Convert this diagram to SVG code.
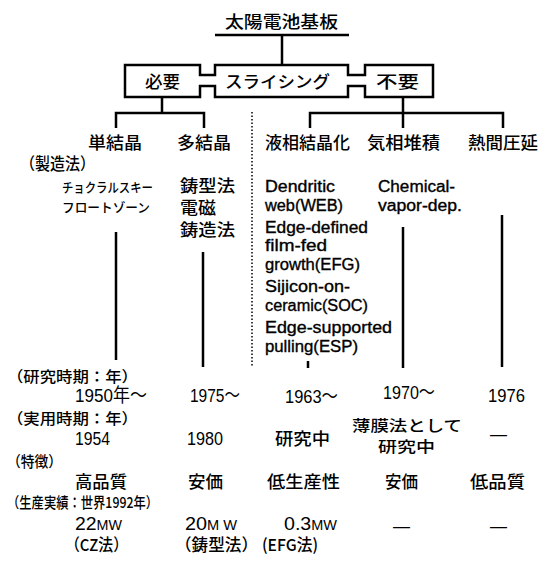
<svg xmlns="http://www.w3.org/2000/svg" width="543" height="561" viewBox="0 0 543 561">
<style>
.j{font-family:"Noto Sans CJK JP","Noto Sans CJK SC",sans-serif;font-size:16.5px;fill:#000;font-weight:500}
.r{font-size:15px}
.l{font-family:"Liberation Sans","Noto Sans CJK JP",sans-serif;font-size:16px;fill:#000;stroke:#000;stroke-width:0.35}
.d{font-family:"Liberation Sans","Noto Sans CJK JP",sans-serif;font-size:19px;fill:#000}
.k{font-size:13px}
.s{font-size:14px}
.ln{stroke:#000;stroke-width:2.5;fill:none}
.dot{stroke:#000;stroke-width:1.5;fill:none;stroke-dasharray:1.5 2}
</style>
<rect width="543" height="561" fill="#fff"/>
<g id="title"><text class="j" x="225" y="28" font-size="18" textLength="113" lengthAdjust="spacingAndGlyphs">太陽電池基板</text></g>
<g id="connectors">
<path class="ln" d="M215,35H349M282,35V65"/>
<path class="ln" stroke-width="2" d="M125,65H200V75H215V65H348V75H365V65H433V97H365V86H348V97H215V86H200V97H125Z"/>
<path class="ln" d="M162,97V113M116,128V113H204V128"/>
<path class="ln" d="M403,97V128M310,128V113H503V128"/>
<path class="dot" d="M252,112V367"/>
<path class="ln" d="M116,232V360M203,252V367M308,361V368M403,227V368M502,215V367"/>
</g>
<g id="boxes">
<text class="j" x="145" y="88" font-size="17.5" textLength="35" lengthAdjust="spacingAndGlyphs">必要</text>
<text class="j" x="225" y="88" font-size="17.5" textLength="105" lengthAdjust="spacingAndGlyphs">スライシング</text>
<text class="j" x="376" y="88" font-size="17.5" textLength="43" lengthAdjust="spacingAndGlyphs">不要</text>
</g>
<g id="col-single">
<text class="j" x="88" y="149" textLength="54" lengthAdjust="spacingAndGlyphs">単結晶</text>
<text class="j k" x="62" y="192" textLength="91" lengthAdjust="spacingAndGlyphs">チョクラルスキー</text>
<text class="j k" x="62" y="212" textLength="88" lengthAdjust="spacingAndGlyphs">フロートゾーン</text>
<text class="d" x="75" y="402" textLength="72" lengthAdjust="spacingAndGlyphs">1950年～</text>
<text class="d" x="75" y="445" textLength="35" lengthAdjust="spacingAndGlyphs">1954</text>
<text class="j" x="75" y="488" textLength="52" lengthAdjust="spacingAndGlyphs">高品質</text>
<text class="d" x="75" y="530" textLength="47" lengthAdjust="spacingAndGlyphs">22<tspan class="s">MW</tspan></text>
<text class="j" x="65" y="551" textLength="63" lengthAdjust="spacingAndGlyphs">（CZ法）</text>
</g>
<g id="col-poly">
<text class="j" x="177" y="149" textLength="54" lengthAdjust="spacingAndGlyphs">多結晶</text>
<text class="j" x="180" y="192" textLength="55" lengthAdjust="spacingAndGlyphs">鋳型法</text>
<text class="j" x="180" y="214" textLength="36" lengthAdjust="spacingAndGlyphs">電磁</text>
<text class="j" x="180" y="236" textLength="55" lengthAdjust="spacingAndGlyphs">鋳造法</text>
<text class="d" x="190" y="402" textLength="50" lengthAdjust="spacingAndGlyphs">1975～</text>
<text class="d" x="187" y="445" textLength="36" lengthAdjust="spacingAndGlyphs">1980</text>
<text class="j" x="188" y="488" textLength="35" lengthAdjust="spacingAndGlyphs">安価</text>
<text class="d" x="185" y="530" textLength="52" lengthAdjust="spacingAndGlyphs">20<tspan class="s">M W</tspan></text>
<text class="j" x="175" y="551" textLength="83" lengthAdjust="spacingAndGlyphs">（鋳型法）</text>
</g>
<g id="col-liquid">
<text class="j" x="265" y="149" textLength="85" lengthAdjust="spacingAndGlyphs">液相結晶化</text>
<text class="l" x="265" y="192" textLength="70" lengthAdjust="spacingAndGlyphs">Dendritic</text>
<text class="l" x="265" y="211" textLength="78" lengthAdjust="spacingAndGlyphs">web(WEB)</text>
<text class="l" x="265" y="233" textLength="103" lengthAdjust="spacingAndGlyphs">Edge-defined</text>
<text class="l" x="265" y="251" textLength="62" lengthAdjust="spacingAndGlyphs">film-fed</text>
<text class="l" x="265" y="270" textLength="95" lengthAdjust="spacingAndGlyphs">growth(EFG)</text>
<text class="l" x="265" y="292" textLength="85" lengthAdjust="spacingAndGlyphs">Sijicon-on-</text>
<text class="l" x="265" y="311" textLength="103" lengthAdjust="spacingAndGlyphs">ceramic(SOC)</text>
<text class="l" x="265" y="333" textLength="127" lengthAdjust="spacingAndGlyphs">Edge-supported</text>
<text class="l" x="265" y="352" textLength="93" lengthAdjust="spacingAndGlyphs">pulling(ESP)</text>
<text class="d" x="285" y="403" textLength="53" lengthAdjust="spacingAndGlyphs">1963～</text>
<text class="j" x="275" y="445" textLength="55" lengthAdjust="spacingAndGlyphs">研究中</text>
<text class="j" x="267" y="488" textLength="73" lengthAdjust="spacingAndGlyphs">低生産性</text>
<text class="d" x="284" y="530" textLength="53" lengthAdjust="spacingAndGlyphs">0.3<tspan class="s">MW</tspan></text>
<text class="j" x="262" y="551" textLength="56" lengthAdjust="spacingAndGlyphs">(EFG法)</text>
</g>
<g id="col-vapor">
<text class="j" x="367" y="149" textLength="73" lengthAdjust="spacingAndGlyphs">気相堆積</text>
<text class="l" x="378" y="192" textLength="77" lengthAdjust="spacingAndGlyphs">Chemical-</text>
<text class="l" x="378" y="211" textLength="84" lengthAdjust="spacingAndGlyphs">vapor-dep.</text>
<text class="d" x="383" y="399" textLength="52" lengthAdjust="spacingAndGlyphs">1970～</text>
<text class="j r" x="352" y="431" textLength="110" lengthAdjust="spacingAndGlyphs">薄膜法として</text>
<text class="j r" x="378" y="452" textLength="57" lengthAdjust="spacingAndGlyphs">研究中</text>
<text class="j" x="385" y="488" textLength="33" lengthAdjust="spacingAndGlyphs">安価</text>
<text class="d" x="393" y="532" textLength="17" lengthAdjust="spacingAndGlyphs">—</text>
</g>
<g id="col-hot">
<text class="j" x="468" y="149" textLength="70" lengthAdjust="spacingAndGlyphs">熱間圧延</text>
<text class="d" x="488" y="402" textLength="37" lengthAdjust="spacingAndGlyphs">1976</text>
<text class="d" x="490" y="440" textLength="17" lengthAdjust="spacingAndGlyphs">—</text>
<text class="j" x="470" y="488" textLength="55" lengthAdjust="spacingAndGlyphs">低品質</text>
<text class="d" x="490" y="532" textLength="17" lengthAdjust="spacingAndGlyphs">—</text>
</g>
<g id="row-labels">
<text class="j" x="20" y="170" textLength="75" lengthAdjust="spacingAndGlyphs">（製造法）</text>
<text class="j r" x="7" y="382" textLength="131" lengthAdjust="spacingAndGlyphs">（研究時期：年）</text>
<text class="j r" x="7" y="424" textLength="131" lengthAdjust="spacingAndGlyphs">（実用時期：年）</text>
<text class="j r" x="7" y="467" textLength="55" lengthAdjust="spacingAndGlyphs">（特徴）</text>
<text class="j r" x="7" y="508" textLength="151" lengthAdjust="spacingAndGlyphs">（生産実績：世界1992年）</text>
</g>
</svg>
